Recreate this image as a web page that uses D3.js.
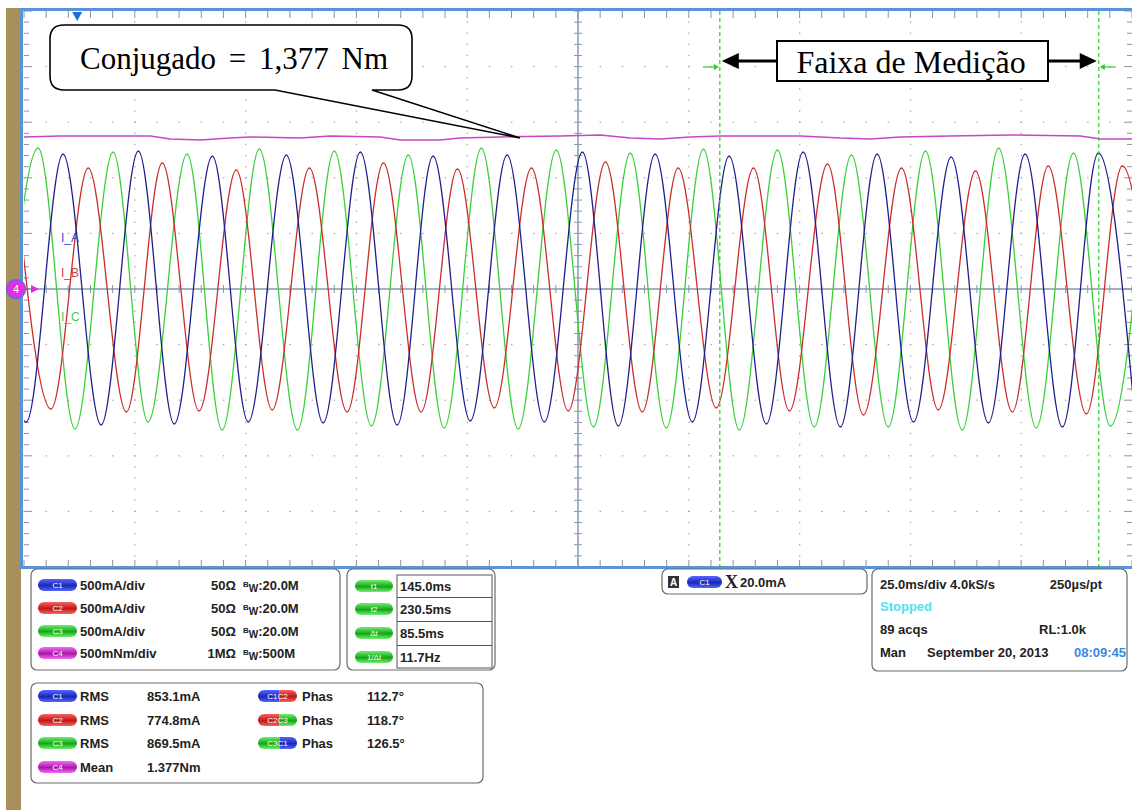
<!DOCTYPE html>
<html>
<head>
<meta charset="utf-8">
<script src="https://cdn.jsdelivr.net/npm/d3@7"></script>
<style>
  body { margin: 0; background: #fff; }
  svg { display: block; }
</style>
</head>
<body>
<script>
// extremes of each trace: time in ms (trigger = 0), current in mA
const c1Times = [-19.8, -11.5, -3.2, 5.4, 13.8, 21.9, 30.5, 38.6, 47.2, 55.5, 63.9, 72.2, 80.3, 88.7, 97.0, 105.4, 114.0, 122.1, 130.4, 138.8, 147.1, 155.5, 163.8, 172.2, 180.5, 188.7, 197.2, 205.6, 213.9, 222.3, 230.4, 238.8];
const c1Values = [1210, -1196, 1214, -1223, 1241, -1214, 1196, -1196, 1205, -1205, 1232, -1223, 1196, -1187, 1205, -1196, 1232, -1232, 1214, -1196, 1196, -1214, 1232, -1241, 1214, -1196, 1187, -1205, 1214, -1241, 1223, -1214];

const c2Times = [-14.2, -5.9, 2.5, 11.1, 19.2, 27.5, 35.9, 44.0, 52.4, 60.9, 69.1, 77.6, 85.8, 94.1, 102.5, 110.8, 119.2, 127.5, 135.6, 144.2, 152.6, 160.7, 169.3, 177.4, 186.0, 194.3, 202.7, 211.0, 219.1, 227.7, 235.8, 244.2];
const c2Values = [1097, -1079, 1088, -1106, 1133, -1097, 1070, -1088, 1088, -1106, 1133, -1106, 1079, -1070, 1088, -1097, 1142, -1106, 1088, -1070, 1088, -1097, 1124, -1133, 1088, -1088, 1061, -1106, 1106, -1124, 1106, -1097];

const c3Times = [-17.2, -8.8, -0.5, 8.1, 16.0, 24.8, 32.7, 41.1, 49.7, 58.0, 66.4, 74.7, 82.8, 91.2, 99.5, 108.1, 116.5, 124.8, 132.9, 141.3, 149.4, 158.0, 166.3, 174.7, 183.0, 191.4, 199.7, 207.9, 216.4, 224.8, 233.1, 241.5];
const c3Values = [-1250, 1268, -1259, 1232, -1196, 1214, -1268, 1259, -1268, 1241, -1232, 1205, -1250, 1268, -1259, 1250, -1241, 1223, -1250, 1259, -1268, 1250, -1241, 1205, -1241, 1241, -1268, 1268, -1250, 1223, -1232, 1232];

// torque in Nm
const c4Times = [-12, -3.8, 16.5, 21, 27.8, 34.5, 39, 50.3, 57.1, 68.4, 72.9, 81.9, 86.4, 95.5, 109, 118, 124.8, 131.6, 138.3, 145.1, 163.2, 172.2, 179, 185.7, 197, 210.6, 226.4, 230.9, 238];
const c4Values = [1.367, 1.376, 1.376, 1.349, 1.340, 1.357, 1.367, 1.357, 1.376, 1.367, 1.340, 1.340, 1.357, 1.367, 1.376, 1.385, 1.357, 1.349, 1.367, 1.376, 1.376, 1.357, 1.349, 1.367, 1.376, 1.385, 1.376, 1.349, 1.349];

const cursorTimes = [145.0, 230.5];

const traceLabels = ['I_A', 'I_B', 'I_C'];
const chanNames = ['C1', 'C2', 'C3', 'C4'];
const chanScales = ['500mA/div', '500mA/div', '500mA/div', '500mNm/div'];
const chanImped = ['50Ω', '50Ω', '50Ω', '1MΩ'];
const chanBw = ['20.0M', '20.0M', '20.0M', '500M'];
const cursorNames = ['t1', 't2', 'Δt', '1/Δt'];
const cursorReadouts = ['145.0ms', '230.5ms', '85.5ms', '11.7Hz'];
const measNames = ['RMS', 'RMS', 'RMS', 'Mean'];
const measValues = ['853.1mA', '774.8mA', '869.5mA', '1.377Nm'];
const phasePairs = [['C1', 'C2'], ['C2', 'C3'], ['C3', 'C1']];
const phaseValues = ['112.7°', '118.7°', '126.5°'];

const W = 1132, H = 810;
const pL = 24, pR = 1132, pT = 11, pB = 567;

const colors = { C1: '#1e1e8e', C2: '#cc2b2b', C3: '#38d038', C4: '#c845c8' };
const pillColors = {
  C1: ['#5566ff', '#1b27b5'], C2: ['#ff6060', '#b81a1a'], C3: ['#6cf06c', '#16a416'],
  C4: ['#f56af5', '#a818a8'], T: ['#70f070', '#16a416']
};

const x = d3.scaleLinear().domain([-12, 238]).range([pL, pR]);
const y = d3.scaleLinear().domain([-2500, 2500]).range([pB, pT]);
const yT = d3.scaleLinear().domain([-2.5, 2.5]).range([pB, pT]);

const svg = d3.select('body').append('svg')
  .attr('width', W).attr('height', H)
  .style('font-family', 'Liberation Sans, Arial, sans-serif');

const defs = svg.append('defs');
Object.keys(pillColors).forEach(function (k) {
  let g = defs.append('linearGradient').attr('id', 'pg' + k)
    .attr('x1', 0).attr('y1', 0).attr('x2', 0).attr('y2', 1);
  g.append('stop').attr('offset', '0%').attr('stop-color', pillColors[k][0]);
  g.append('stop').attr('offset', '55%').attr('stop-color', pillColors[k][1]);
  g.append('stop').attr('offset', '100%').attr('stop-color', pillColors[k][0]);
});
defs.append('clipPath').attr('id', 'plotClip')
  .append('rect').attr('x', pL).attr('y', pT).attr('width', pR - pL).attr('height', pB - pT);

// left brown strip
svg.append('rect').attr('x', 6).attr('y', 8).attr('width', 15).attr('height', H - 8).attr('fill', '#a8905a');

// ---- graticule ----
const grid = svg.append('g');
const divT = d3.range(0, 11).map(i => -12 + 25 * i);
const minorT = d3.range(0, 51).map(i => -12 + 5 * i);
const divV = d3.range(-2500, 2501, 500);
const minorV = d3.range(-2500, 2501, 100);

// dotted division lines
divT.slice(1, 10).filter((d, i) => i !== 4).forEach(function (t) {
  grid.selectAll(null).data(minorV).enter().append('rect')
    .attr('x', x(t) - 0.5).attr('y', d => y(d) - 0.75).attr('width', 1.2).attr('height', 1.5)
    .attr('fill', '#a9a9a9');
});
divV.slice(1, 10).filter((d, i) => i !== 4).forEach(function (v) {
  grid.selectAll(null).data(minorT).enter().append('rect')
    .attr('x', d => x(d) - 0.6).attr('y', y(v) - 0.6).attr('width', 1.5).attr('height', 1.2)
    .attr('fill', '#a9a9a9');
});

// center cross
const cx = x(113), cy = y(0);
grid.append('line').attr('x1', pL).attr('x2', pR).attr('y1', cy).attr('y2', cy)
  .attr('stroke', '#8797a8').attr('stroke-width', 1.5);
grid.append('line').attr('x1', cx).attr('x2', cx).attr('y1', pT).attr('y2', pB)
  .attr('stroke', '#8797a8').attr('stroke-width', 1.5);
grid.selectAll(null).data(minorT).enter().append('line')
  .attr('x1', d => x(d)).attr('x2', d => x(d)).attr('y1', cy - 4).attr('y2', cy + 4)
  .attr('stroke', '#8797a8').attr('stroke-width', 1);
grid.selectAll(null).data(minorV).enter().append('line')
  .attr('x1', cx - 4).attr('x2', cx + 4).attr('y1', d => y(d)).attr('y2', d => y(d))
  .attr('stroke', '#8797a8').attr('stroke-width', 1);

// border ticks
grid.selectAll(null).data(minorT).enter().append('line')
  .attr('x1', d => x(d)).attr('x2', d => x(d)).attr('y1', pT).attr('y2', pT + 7)
  .attr('stroke', '#8c96a0').attr('stroke-width', 1);
grid.selectAll(null).data(minorT).enter().append('line')
  .attr('x1', d => x(d)).attr('x2', d => x(d)).attr('y1', pB - 7).attr('y2', pB)
  .attr('stroke', '#8c96a0').attr('stroke-width', 1);
grid.selectAll(null).data(minorV).enter().append('line')
  .attr('x1', pL).attr('x2', d => pL + (d % 500 === 0 ? 8 : 5)).attr('y1', d => y(d)).attr('y2', d => y(d))
  .attr('stroke', '#8c96a0').attr('stroke-width', 1);
grid.selectAll(null).data(minorV).enter().append('line')
  .attr('x1', pR).attr('x2', d => pR - (d % 500 === 0 ? 8 : 5)).attr('y1', d => y(d)).attr('y2', d => y(d))
  .attr('stroke', '#8c96a0').attr('stroke-width', 1);

// blue frame
svg.append('line').attr('x1', 20).attr('x2', W).attr('y1', 9.5).attr('y2', 9.5).attr('stroke', '#5b93d9').attr('stroke-width', 3);
svg.append('line').attr('x1', 21.5).attr('x2', 21.5).attr('y1', 8).attr('y2', 569).attr('stroke', '#5b93d9').attr('stroke-width', 3);
svg.append('line').attr('x1', 20).attr('x2', W).attr('y1', 567.5).attr('y2', 567.5).attr('stroke', '#5b93d9').attr('stroke-width', 3);

// ---- traces ----
const plot = svg.append('g').attr('clip-path', 'url(#plotClip)');
const line = d3.line().x(d => x(d.t)).y(d => y(d.v)).curve(d3.curveMonotoneX);
const series = [
  { name: 'C3', t: c3Times, v: c3Values },
  { name: 'C2', t: c2Times, v: c2Values },
  { name: 'C1', t: c1Times, v: c1Values }
];
series.forEach(function (s) {
  plot.append('path')
    .datum(s.t.map((t, i) => ({ t: t, v: s.v[i] })))
    .attr('d', line)
    .attr('fill', 'none').attr('stroke', colors[s.name]).attr('stroke-width', 1.3);
});
const torqueLine = d3.line().x(d => x(d.t)).y(d => yT(d.v));
plot.append('path')
  .datum(c4Times.map((t, i) => ({ t: t, v: c4Values[i] })))
  .attr('d', torqueLine)
  .attr('fill', 'none').attr('stroke', colors.C4).attr('stroke-width', 1.5);

// trace labels
const labelVals = [460, 145, -245];
const labelCols = ['#4646cc', '#d44040', '#4ccc4c'];
traceLabels.forEach(function (l, i) {
  svg.append('text').attr('x', 61).attr('y', y(labelVals[i]) + 4.5)
    .attr('font-size', 12).attr('fill', labelCols[i]).text(l);
});

// trigger position marker and ch4 ground marker
svg.append('path')
  .attr('d', `M${x(0) - 5},12 L${x(0) + 5},12 L${x(0)},21 Z`).attr('fill', '#1f6fd8');
svg.append('circle').attr('cx', 16).attr('cy', cy).attr('r', 9.5)
  .attr('fill', '#e02ee0').attr('stroke', '#5a6fe0').attr('stroke-width', 1.5);
svg.append('text').attr('x', 16).attr('y', cy + 4).attr('text-anchor', 'middle')
  .attr('font-size', 11).attr('fill', '#fff').text('4');
svg.append('path').attr('d', `M31,${cy - 4} L39,${cy} L31,${cy + 4} Z`).attr('fill', '#e02ee0');

// ---- cursors ----
cursorTimes.forEach(function (t, i) {
  let cxp = x(t);
  svg.append('line').attr('x1', cxp).attr('x2', cxp).attr('y1', pT).attr('y2', pB)
    .attr('stroke', '#2ccc2c').attr('stroke-width', 1.2).attr('stroke-dasharray', '4,3');
  let dir = i === 0 ? -1 : 1;
  svg.append('line').attr('x1', cxp + dir * 17).attr('x2', cxp + dir * 4).attr('y1', 67).attr('y2', 67)
    .attr('stroke', '#2ccc2c').attr('stroke-width', 1.2);
  svg.append('path').attr('d', `M${cxp + dir * 1},67 L${cxp + dir * 6},64 L${cxp + dir * 6},70 Z`).attr('fill', '#2ccc2c');
});

// ---- annotations ----
const ann = svg.append('g');
ann.append('path')
  .attr('d', 'M64,25 H398 Q412,25 412,39 V76 Q412,90 398,90 H372 L520,138 L275,90 H64 Q50,90 50,76 V39 Q50,25 64,25 Z')
  .attr('fill', '#fff').attr('stroke', '#000').attr('stroke-width', 1.6);
ann.append('text').attr('x', 80).attr('y', 69)
  .attr('font-family', 'Liberation Serif, Times New Roman, serif').attr('font-size', 31)
  .attr('word-spacing', 5)
  .text('Conjugado = 1,377 Nm');

const ax1 = x(cursorTimes[0]), ax2 = x(cursorTimes[1]);
ann.append('rect').attr('x', 777).attr('y', 41).attr('width', 271).attr('height', 40)
  .attr('fill', '#fff').attr('stroke', '#000').attr('stroke-width', 2);
ann.append('text').attr('x', 911).attr('y', 73).attr('text-anchor', 'middle')
  .attr('font-family', 'Liberation Serif, Times New Roman, serif').attr('font-size', 32)
  .text('Faixa de Medição');
ann.append('line').attr('x1', 777).attr('x2', ax1 + 14).attr('y1', 61).attr('y2', 61).attr('stroke', '#000').attr('stroke-width', 3);
ann.append('path').attr('d', `M${ax1 + 2},61 L${ax1 + 19},53 L${ax1 + 19},69 Z`).attr('fill', '#000');
ann.append('line').attr('x1', 1048).attr('x2', ax2 - 14).attr('y1', 61).attr('y2', 61).attr('stroke', '#000').attr('stroke-width', 3);
ann.append('path').attr('d', `M${ax2 - 2},61 L${ax2 - 19},53 L${ax2 - 19},69 Z`).attr('fill', '#000');

// ---- readout panels ----
function pill(g, px, py, w, h, key, label) {
  g.append('rect').attr('x', px).attr('y', py - h / 2).attr('width', w).attr('height', h)
    .attr('rx', h / 2).attr('fill', 'url(#pg' + key + ')');
  g.append('text').attr('x', px + w / 2).attr('y', py + 3).attr('text-anchor', 'middle')
    .attr('font-size', 8).attr('fill', '#fff').text(label);
}
function dualPill(g, px, py, w, h, k1, k2) {
  let id = 'dp' + k1 + k2;
  defs.append('clipPath').attr('id', id).append('rect')
    .attr('x', px).attr('y', py - h / 2).attr('width', w).attr('height', h).attr('rx', h / 2);
  let gg = g.append('g').attr('clip-path', 'url(#' + id + ')');
  gg.append('rect').attr('x', px).attr('y', py - h / 2).attr('width', w / 2 + 2).attr('height', h).attr('fill', 'url(#pg' + k1 + ')');
  gg.append('rect').attr('x', px + w / 2 + 2).attr('y', py - h / 2).attr('width', w / 2).attr('height', h).attr('fill', 'url(#pg' + k2 + ')');
  g.append('text').attr('x', px + w / 2).attr('y', py + 3).attr('text-anchor', 'middle')
    .attr('font-size', 8).attr('fill', '#fff').text(k1 + k2);
}
function panel(x0, y0, w, h) {
  svg.append('rect').attr('x', x0).attr('y', y0).attr('width', w).attr('height', h)
    .attr('rx', 6).attr('fill', '#fff').attr('stroke', '#6c6c6c').attr('stroke-width', 1.2);
}

panel(31, 569, 309, 101);
panel(347, 569, 148, 101);
panel(662, 569, 205, 25);
panel(872, 569, 255, 102);
panel(31, 683, 452, 100);

const txt = svg.append('g').attr('font-weight', 'bold').attr('font-size', 13).attr('fill', '#222');

// channel settings
const rowY1 = [585, 608, 631, 653];
chanNames.forEach(function (c, i) {
  let ry = rowY1[i];
  pill(svg, 38, ry, 39, 12, c, c);
  txt.append('text').attr('x', 80).attr('y', ry + 4.5).text(chanScales[i]);
  txt.append('text').attr('x', 236).attr('y', ry + 4.5).attr('text-anchor', 'end').text(chanImped[i]);
  let t = txt.append('text').attr('x', 243).attr('y', ry + 4.5);
  t.append('tspan').attr('font-size', 8).attr('dy', -3).text('B');
  t.append('tspan').attr('font-size', 10).attr('dy', 5).text('W');
  t.append('tspan').attr('dy', -2).text(':' + chanBw[i]);
});

// cursor readouts
const rowY2 = [586, 609, 633, 657];
svg.append('rect').attr('x', 397).attr('y', 575).attr('width', 95).attr('height', 93)
  .attr('fill', 'none').attr('stroke', '#555').attr('stroke-width', 1);
cursorNames.forEach(function (c, i) {
  let ry = rowY2[i];
  pill(svg, 355, ry, 38, 12, 'T', c);
  if (i > 0) svg.append('line').attr('x1', 397).attr('x2', 492).attr('y1', ry - 11.5).attr('y2', ry - 11.5)
    .attr('stroke', '#555').attr('stroke-width', 1);
  txt.append('text').attr('x', 400).attr('y', ry + 4.5).text(cursorReadouts[i]);
});

// trigger
svg.append('rect').attr('x', 668).attr('y', 576).attr('width', 11).attr('height', 12).attr('fill', '#333');
svg.append('text').attr('x', 673.5).attr('y', 586).attr('text-anchor', 'middle').attr('font-size', 10)
  .attr('font-weight', 'bold').attr('fill', '#fff').text('A');
pill(svg, 687, 582, 35, 12, 'C1', 'C1');
svg.append('text').attr('x', 725).attr('y', 588).attr('font-family', 'Liberation Serif, serif')
  .attr('font-weight', 'bold').attr('font-size', 18).attr('fill', '#222').text('X');
txt.append('text').attr('x', 740).attr('y', 586.5).text('20.0mA');

// timebase
txt.append('text').attr('x', 880).attr('y', 589).text('25.0ms/div 4.0kS/s');
txt.append('text').attr('x', 1102).attr('y', 589).attr('text-anchor', 'end').text('250µs/pt');
txt.append('text').attr('x', 880).attr('y', 611).attr('fill', '#52e0f2').text('Stopped');
txt.append('text').attr('x', 880).attr('y', 634).text('89 acqs');
txt.append('text').attr('x', 1086).attr('y', 634).attr('text-anchor', 'end').text('RL:1.0k');
txt.append('text').attr('x', 880).attr('y', 657).text('Man');
txt.append('text').attr('x', 927).attr('y', 657).text('September 20, 2013');
txt.append('text').attr('x', 1074).attr('y', 657).attr('fill', '#3a8ae0').text('08:09:45');

// measurements
const rowY3 = [696, 720, 743, 767];
chanNames.forEach(function (c, i) {
  let ry = rowY3[i];
  pill(svg, 38, ry, 39, 12, c, c);
  txt.append('text').attr('x', 80).attr('y', ry + 4.5).text(measNames[i]);
  txt.append('text').attr('x', 147).attr('y', ry + 4.5).text(measValues[i]);
});
phasePairs.forEach(function (p, i) {
  let ry = rowY3[i];
  dualPill(svg, 258, ry, 39, 12, p[0], p[1]);
  txt.append('text').attr('x', 302).attr('y', ry + 4.5).text('Phas');
  txt.append('text').attr('x', 367).attr('y', ry + 4.5).text(phaseValues[i]);
});
</script>
</body>
</html>
